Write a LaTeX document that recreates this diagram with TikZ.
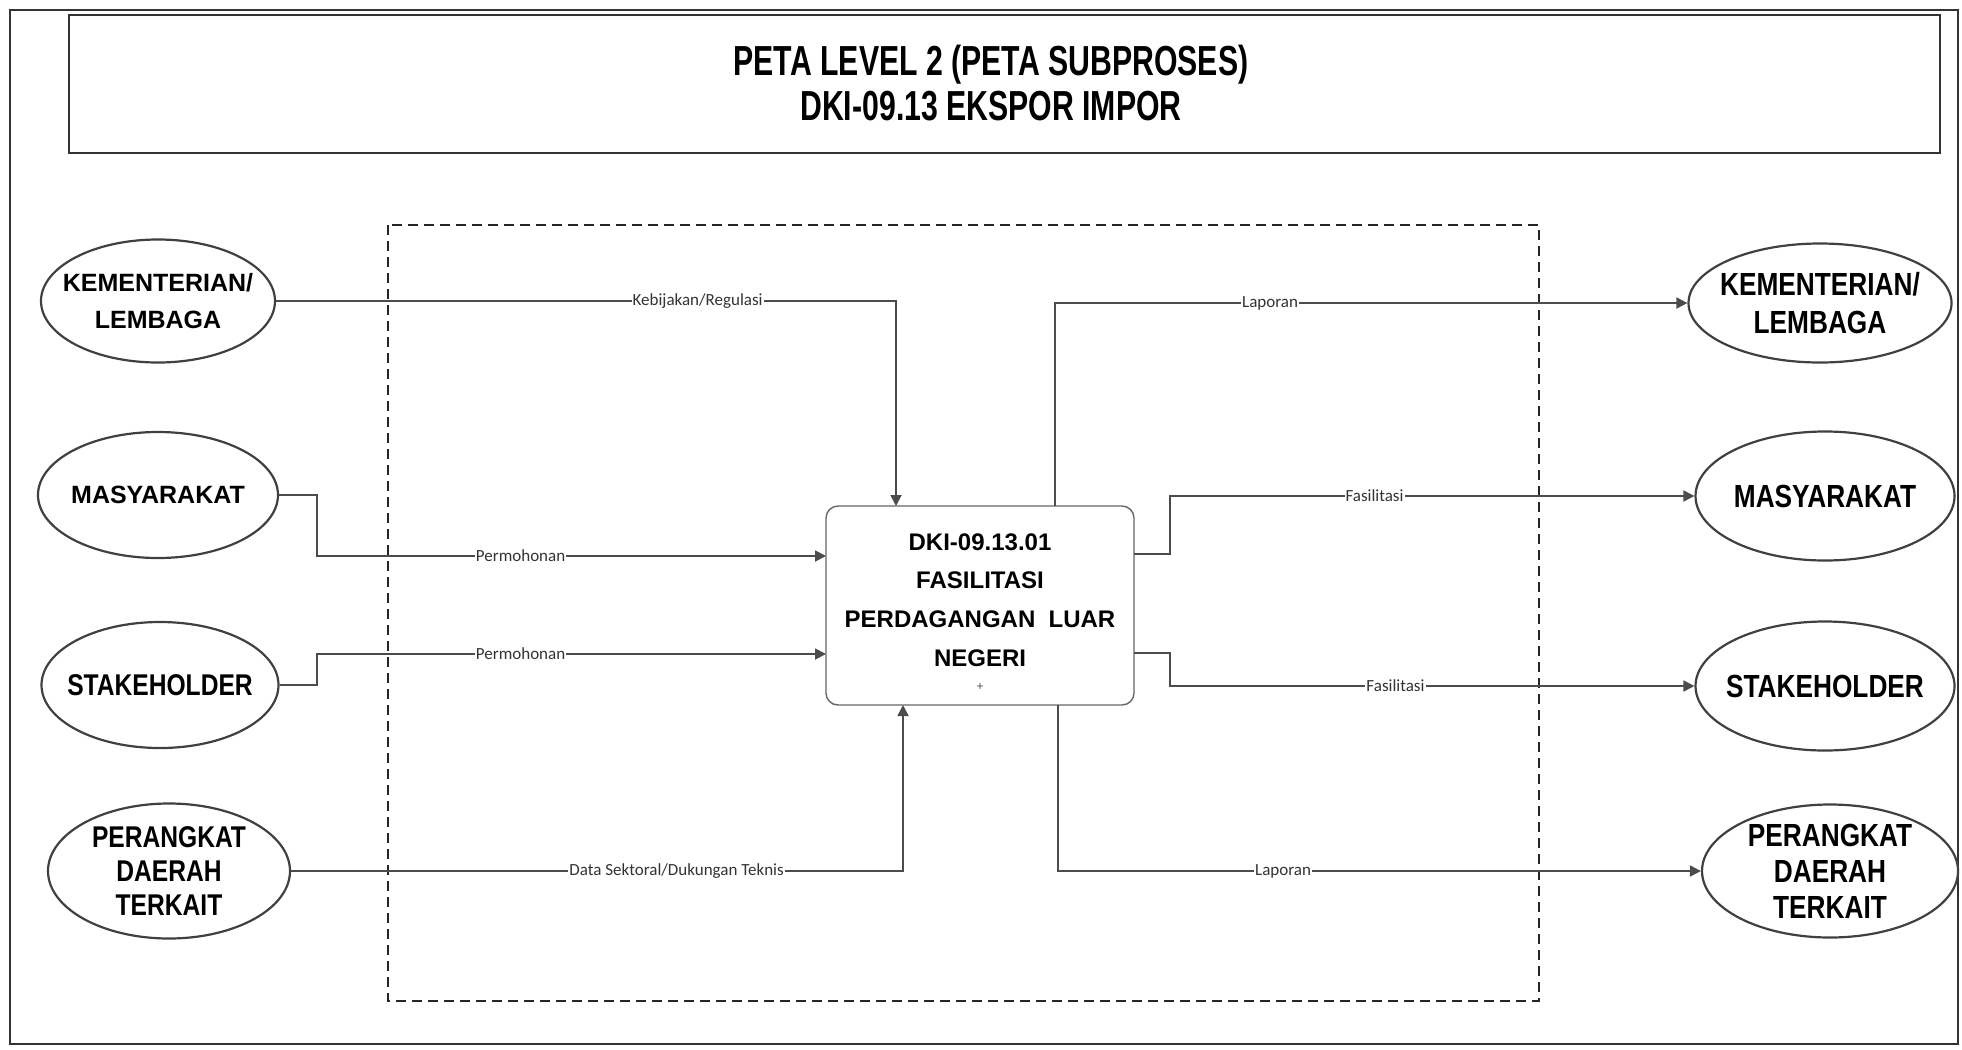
\documentclass[tikz,border=0pt]{standalone}
\usepackage{fontspec}
\setmainfont{Liberation Sans}
\newfontfamily\narrowfont[FakeStretch=0.82]{Liberation Sans}
\newfontfamily\titlefont[FakeStretch=0.72]{Liberation Sans}
\newfontfamily\labelfont{Carlito}
\usetikzlibrary{arrows.meta,shapes.geometric}
\begin{document}
\begin{tikzpicture}[x=0.5pt,y=-0.5pt,
  ent/.style={ellipse,draw=black!75,line width=1.1pt,inner sep=0pt},
  flow/.style={draw=black!70,line width=0.9pt,-{Triangle[length=5.5pt,width=5.5pt]}},
  lbl/.style={fill=white,inner sep=0.5pt,font=\labelfont\fontsize{8.5}{9}\selectfont,text=black!80},
  wide/.style={font=\bfseries\fontsize{12.5}{18.5}\selectfont,align=center,inner sep=0pt},
  narrowL/.style={font=\narrowfont\bfseries\fontsize{15}{17}\selectfont,align=center,inner sep=0pt},
  narrowR/.style={font=\narrowfont\bfseries\fontsize{16}{19}\selectfont,align=center,inner sep=0pt},
]
\useasboundingbox (0,0) rectangle (1962,1049);
% outer frame
\draw[black!80,line width=1.4pt] (10,10) rectangle (1958,1044);
% title box
\node[draw=black!80,line width=1.1pt,minimum width=935.5pt,minimum height=69pt] (titlebox) at (1004.5,84) {};
\node[font=\titlefont\bfseries\fontsize{21}{22.5}\selectfont,align=center] (title) at (991,83)
  {PETA LEVEL 2 (PETA SUBPROSES)\\DKI-09.13 EKSPOR IMPOR};
% dashed system boundary
\draw[dashed,black!85,line width=0.6pt,dash pattern=on 5pt off 3pt] (388,225) rectangle (1539,1001);
% central process
\node[draw=black!60,line width=0.7pt,rounded corners=6pt,minimum width=154pt,minimum height=99.5pt] (proc) at (980,605.5) {};
\node[font=\bfseries\fontsize{12}{19.3}\selectfont,align=center] (proctext) at (980,600)
  {DKI-09.13.01\\FASILITASI\\PERDAGANGAN\ \ LUAR\\NEGERI};
\node[font=\fontsize{6}{6}\selectfont,inner sep=0pt,text=black!70] (mark) at (980,687) {+};
% left entities
\node[ent,minimum width=117pt,minimum height=61.5pt,label={[wide]center:KEMENTERIAN/\\LEMBAGA}] (L1) at (158,301) {};
\node[ent,minimum width=120pt,minimum height=63pt,label={[wide]center:MASYARAKAT}] (L2) at (158,495) {};
\node[ent,minimum width=118.5pt,minimum height=63pt,label={[narrowL]center:STAKEHOLDER}] (L3) at (160,685) {};
\node[ent,minimum width=121pt,minimum height=67.5pt,label={[narrowL]center:PERANGKAT\\DAERAH\\TERKAIT}] (L4) at (169,871) {};
% right entities
\node[ent,minimum width=131.5pt,minimum height=59.5pt,label={[narrowR]center:KEMENTERIAN/\\LEMBAGA}] (R1) at (1820,303) {};
\node[ent,minimum width=129.5pt,minimum height=64.5pt,label={[narrowR]center:MASYARAKAT}] (R2) at (1825,496) {};
\node[ent,minimum width=129.5pt,minimum height=64.5pt,label={[narrowR]center:STAKEHOLDER}] (R3) at (1825,686) {};
\node[ent,minimum width=128pt,minimum height=66.5pt,label={[narrowR,font=\narrowfont\bfseries\fontsize{16}{18}\selectfont]center:PERANGKAT\\DAERAH\\TERKAIT}] (R4) at (1830,871) {};
% inputs
\draw[flow] (L1.east) -- (896,301) node[lbl,pos=0.68] {Kebijakan/Regulasi} -- (896,506);
\draw[flow] (L2.east) -| (317,556) -- (826,556) node[lbl,pos=0.4] {Permohonan};
\draw[flow] (L3.east) -| (317,654) -- (826,654) node[lbl,pos=0.4] {Permohonan};
\draw[flow] (L4.east) -- (903,871) node[lbl,pos=0.63] {Data Sektoral/Dukungan Teknis} -- (903,705);
% outputs
\draw[flow] (1055,506) -- (1055,303) -- (R1.west) node[lbl,pos=0.34] {Laporan};
\draw[flow] (1134,554) -| (1170,496) -- (R2.west) node[lbl,pos=0.39] {Fasilitasi};
\draw[flow] (1134,653) -| (1170,686) -- (R3.west) node[lbl,pos=0.43] {Fasilitasi};
\draw[flow] (1058,705) -- (1058,871) -- (R4.west) node[lbl,pos=0.35] {Laporan};
\end{tikzpicture}
\end{document}
